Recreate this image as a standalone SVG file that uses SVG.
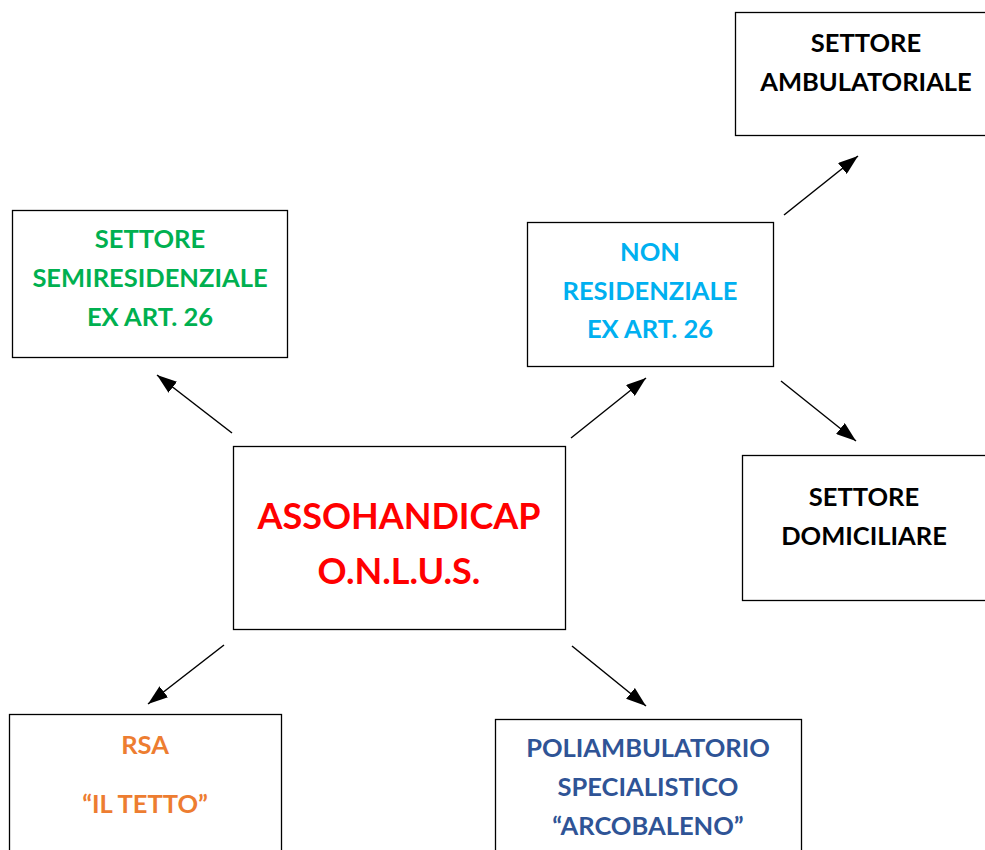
<svg xmlns="http://www.w3.org/2000/svg" width="985" height="850" viewBox="0 0 985 850">
<style>
.box{fill:#fff;stroke:#000;stroke-width:1.3}
.t{font-family:Lato,"Open Sans","Liberation Sans",sans-serif;font-weight:bold;font-size:25.5px;text-anchor:middle}
.big{font-size:36px}
.c{stroke:#000;stroke-width:1.5;fill:none;marker-end:url(#ah)}
</style>
<defs>
<marker id="ah" viewBox="0 0 20 14" refX="20" refY="7" markerWidth="20" markerHeight="14" orient="auto" markerUnits="userSpaceOnUse">
<path d="M0,0 L20,7 L0,14 Z" fill="#000"/>
</marker>
</defs>
<rect width="985" height="850" fill="#fff"/>
<g id="connectors">
<line class="c" x1="232" y1="433" x2="157" y2="375"/>
<line class="c" x1="571" y1="438" x2="646" y2="378"/>
<line class="c" x1="784" y1="215" x2="858" y2="156"/>
<line class="c" x1="781" y1="381" x2="856" y2="441"/>
<line class="c" x1="224" y1="645" x2="148" y2="704"/>
<line class="c" x1="572" y1="646" x2="646" y2="706"/>
</g>
<g id="ambulatoriale">
<rect class="box" x="735.5" y="12.5" width="260" height="123"/>
<text class="t" x="866" y="52">SETTORE</text>
<text class="t" x="866" y="91">AMBULATORIALE</text>
</g>
<g id="semiresidenziale">
<rect class="box" x="12.5" y="210.5" width="275" height="147"/>
<text class="t" x="150" y="248" fill="#00B050">SETTORE</text>
<text class="t" x="150" y="287" fill="#00B050">SEMIRESIDENZIALE</text>
<text class="t" x="150" y="326" fill="#00B050">EX ART. 26</text>
</g>
<g id="nonresidenziale">
<rect class="box" x="527.5" y="222.5" width="246" height="144"/>
<text class="t" x="650" y="261" fill="#00B0F0">NON</text>
<text class="t" x="650" y="300" fill="#00B0F0">RESIDENZIALE</text>
<text class="t" x="650" y="338" fill="#00B0F0">EX ART. 26</text>
</g>
<g id="domiciliare">
<rect class="box" x="742.5" y="455.5" width="260" height="145"/>
<text class="t" x="864" y="506">SETTORE</text>
<text class="t" x="864" y="545">DOMICILIARE</text>
</g>
<g id="assohandicap">
<rect class="box" x="233.5" y="446.5" width="332" height="183"/>
<text class="t big" x="399" y="529" fill="#FF0000">ASSOHANDICAP</text>
<text class="t big" x="399" y="584" fill="#FF0000">O.N.L.U.S.</text>
</g>
<g id="rsa">
<rect class="box" x="9.5" y="714.5" width="272" height="160"/>
<text class="t" x="145" y="754" fill="#ED7D31">RSA</text>
<text class="t" x="145" y="813" fill="#ED7D31">“IL TETTO”</text>
</g>
<g id="poliambulatorio">
<rect class="box" x="495.5" y="719.5" width="306" height="160"/>
<text class="t" x="648" y="757" fill="#2F5496">POLIAMBULATORIO</text>
<text class="t" x="648" y="796" fill="#2F5496">SPECIALISTICO</text>
<text class="t" x="648" y="835" fill="#2F5496">“ARCOBALENO”</text>
</g>
</svg>
